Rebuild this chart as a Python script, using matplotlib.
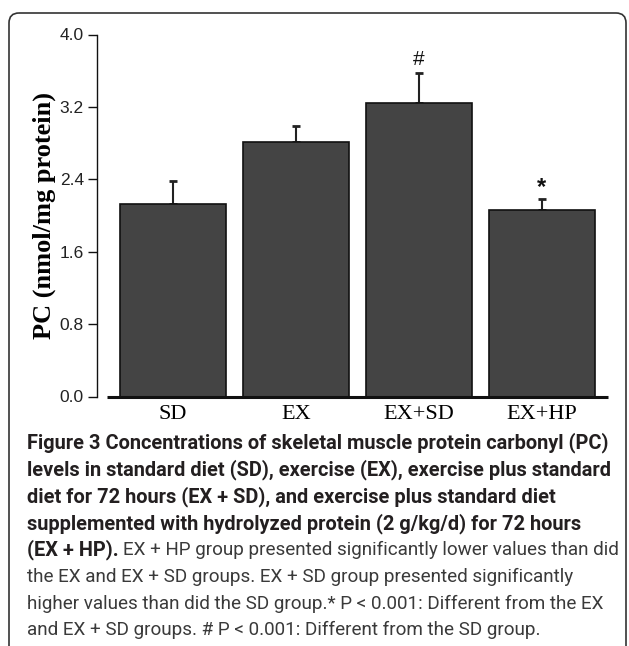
import numpy as np
import matplotlib.pyplot as plt
from matplotlib.patches import FancyBboxPatch

# data
groups = ['SD', 'EX', 'EX+SD', 'EX+HP']
pc_mean = [2.13, 2.815, 3.24, 2.06]
pc_err = [0.25, 0.17, 0.33, 0.12]
marks = ['', '', '#', '*']
yticks = [0.0, 0.8, 1.6, 2.4, 3.2, 4.0]

bold_lines = [
    "Figure 3 Concentrations of skeletal muscle protein carbonyl (PC)",
    "levels in standard diet (SD), exercise (EX), exercise plus standard",
    "diet for 72 hours (EX + SD), and exercise plus standard diet",
    "supplemented with hydrolyzed protein (2 g/kg/d) for 72 hours",
]
mixed_bold = "(EX + HP)."
mixed_rest = "EX + HP group presented significantly lower values than did"
plain_lines = [
    "the EX and EX + SD groups. EX + SD group presented significantly",
    "higher values than did the SD group.* P < 0.001: Different from the EX",
    "and EX + SD groups. # P < 0.001: Different from the SD group.",
]

W, H = 629, 646
fig = plt.figure(figsize=(W / 100, H / 100), dpi=100)

# background axes in pixel coords for frame + caption
bg = fig.add_axes([0, 0, 1, 1], zorder=0)
bg.set_xlim(0, W)
bg.set_ylim(H, 0)
bg.axis('off')
bg.add_patch(FancyBboxPatch((9, 13), 617, 700, boxstyle='round,pad=0,rounding_size=10',
                            fill=False, ec='#333333', lw=1.2))

ax = fig.add_axes([97 / W, 1 - 396.5 / H, (608 - 97) / W, (396.5 - 34.5) / H], zorder=1)
ax.patch.set_alpha(0)
x = np.arange(len(groups))
ax.errorbar(x, pc_mean, yerr=[np.zeros(len(x)), pc_err], fmt='none', ecolor='#222222',
            elinewidth=1.5, capsize=2.8, capthick=2, zorder=1)
ax.bar(x, pc_mean, width=0.862, color='#444444', edgecolor='#111111', linewidth=1.2, zorder=2)
for i in range(len(x)):
    if marks[i] == '#':
        ax.annotate(marks[i], (x[i], pc_mean[i] + pc_err[i]), xytext=(0, 3),
                    textcoords='offset points', ha='center', va='bottom',
                    fontsize=15, family='Liberation Sans', color='#111111')
    elif marks[i]:
        ax.annotate(marks[i], (x[i], pc_mean[i] + pc_err[i]), xytext=(0, 0),
                    textcoords='offset points', ha='center', va='bottom',
                    fontsize=17, family='Liberation Sans', fontweight='bold', color='#111111')

ax.set_xlim(-0.618, 3.537)
ax.set_ylim(0, 4)
for s in ['top', 'right', 'bottom']:
    ax.spines[s].set_visible(False)
ax.spines['left'].set_linewidth(1.0)
ax.spines['left'].set_color('#111111')
ax.plot([-0.537, 3.537], [0, 0], color='#111111', lw=2.2, clip_on=False, solid_capstyle='butt')

ax.set_yticks(yticks)
ax.set_yticklabels(['%.1f' % v for v in yticks], family='Liberation Sans', fontsize=12.5,
                   color='#222222')
ax.tick_params(axis='y', direction='out', length=6.5, width=1, pad=3, color='#111111')
ax.set_xticks(x)
ax.set_xticklabels(groups, family='Liberation Serif', fontsize=16)
ax.tick_params(axis='x', length=0, pad=6)
ax.set_ylabel('PC (nmol/mg protein)', family='Liberation Serif', fontweight='bold', fontsize=19)
ax.yaxis.set_label_coords((56 - 97) / 511, 0.5)

# caption
fig.canvas.draw()
rend = fig.canvas.get_renderer()
cap_font = 'Roboto'
probe = bg.text(0, 0, bold_lines[0], fontsize=10, family=cap_font, fontweight='bold')
bsize = 10 * 583 / probe.get_window_extent(rend).width
probe.remove()
probe = bg.text(0, 0, plain_lines[1], fontsize=10, family=cap_font)
psize = 10 * 578 / probe.get_window_extent(rend).width
probe.remove()

ys = [443, 470, 497, 524, 550, 577, 604, 630]
for yy, line in zip(ys[:4], bold_lines):
    bg.text(27, yy, line, fontsize=bsize, family=cap_font, fontweight='bold',
            color='#231f20', va='center')
t = bg.text(27, ys[4], mixed_bold, fontsize=bsize, family=cap_font, fontweight='bold',
            color='#231f20', va='center')
fig.canvas.draw()
x1 = t.get_window_extent(rend).x1
bg.text(x1 + 4, ys[4], mixed_rest, fontsize=psize, family=cap_font, color='#3a3a3a', va='center')
for yy, line in zip(ys[5:], plain_lines):
    bg.text(27, yy, line, fontsize=psize, family=cap_font, color='#3a3a3a', va='center')

fig.savefig('out.png', dpi=100)
